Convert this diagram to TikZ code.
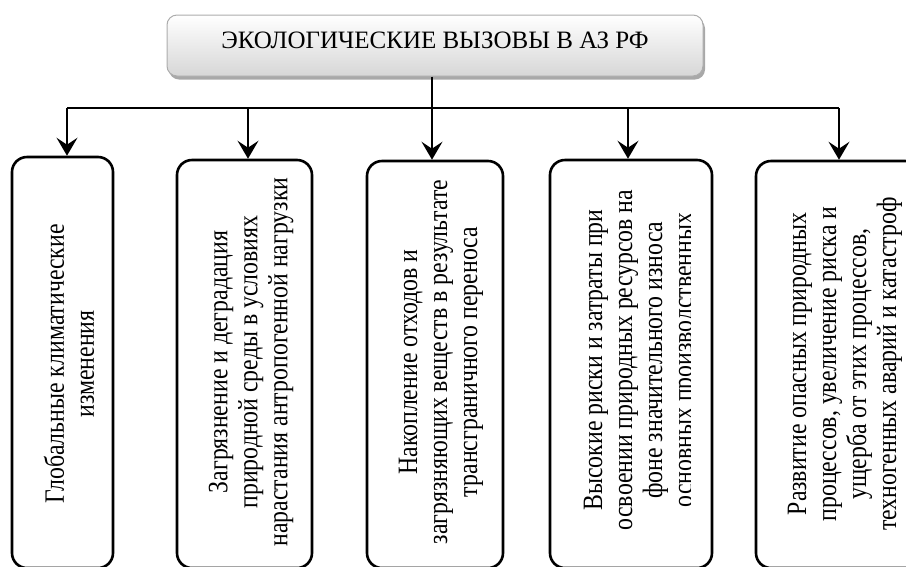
\documentclass[tikz,border=0pt]{standalone}
\usepackage{fontspec}
\setmainfont{Liberation Serif}
\newfontfamily\condserif[FakeStretch=0.85]{Liberation Serif}
\usetikzlibrary{arrows.meta,shadows}
\begin{document}
\begin{tikzpicture}[x=1pt,y=-1pt,
  boxstyle/.style={draw=black, line width=2.6pt, rounded corners=15pt, inner sep=0pt},
  conn/.style={line width=1.7pt, draw=black},
  arr/.style={conn, -{Stealth[length=18pt,width=21pt,inset=7pt]}},
  txt/.style={rotate=90, align=center, font=\condserif\fontsize{28}{30}\selectfont, inner sep=0pt},
  titlebox/.style={draw=gray!65, line width=1pt, rounded corners=10pt, top color=white, bottom color=gray!32,
    drop shadow={shadow xshift=2pt, shadow yshift=-3.5pt, fill=gray!75, opacity=0.9}, inner sep=0pt}]
\useasboundingbox (0,0) rectangle (906,566);
\clip (0,0) rectangle (906,566);
% title
\node[titlebox, minimum width=536pt, minimum height=61pt] (top) at (435,45.5) {};
\node[font=\fontsize{25}{30}\selectfont, anchor=base, inner sep=0pt] (tt) at (435,48) {ЭКОЛОГИЧЕСКИЕ ВЫЗОВЫ В АЗ РФ};
% junctions
\coordinate (j1) at (67,108);
\coordinate (j2) at (248,108);
\coordinate (j3) at (432,108);
\coordinate (j4) at (628,108);
\coordinate (j5) at (839,108);
% boxes
\node[boxstyle, minimum width=101pt, minimum height=411pt] (b1) at (62.5,362.5) {};
\node[boxstyle, minimum width=135pt, minimum height=408pt] (b2) at (244.5,364) {};
\node[boxstyle, minimum width=136pt, minimum height=407pt] (b3) at (435,364.5) {};
\node[boxstyle, minimum width=162pt, minimum height=408pt] (b4) at (631,364) {};
\node[boxstyle, minimum width=164pt, minimum height=407pt] (b5) at (838,364.5) {};
% connectors
\draw[conn] (j3 |- top.south) -- (j3);
\draw[conn] (j1) -- (j5);
\draw[arr] (j1) -- (j1 |- b1.north);
\draw[arr] (j2) -- (j2 |- b2.north);
\draw[arr] (j3) -- (j3 |- b3.north);
\draw[arr] (j4) -- (j4 |- b4.north);
\draw[arr] (j5) -- (j5 |- b5.north);
% texts
\node[txt] (t1) at (69,364) {Глобальные климатические\\изменения};
\node[txt] (t2) at (251,362) {Загрязнение и деградация\\природной среды в условиях\\нарастания антропогенной нагрузки};
\node[txt] (t3) at (441,362) {Накопление отходов и\\загрязняющих веществ в результате\\трансграничного переноса};
\begin{scope}
\clip (540,150) rectangle (690,566);
\node[txt] (t4) at (641,360) {Высокие риски и затраты при\\освоении природных ресурсов на\\фоне значительного износа\\основных производственных};
\end{scope}
\node[txt] (t5) at (845,364) {Развитие опасных природных\\процессов, увеличение риска и\\ущерба от этих процессов,\\техногенных аварий и катастроф};
\end{tikzpicture}
\end{document}
